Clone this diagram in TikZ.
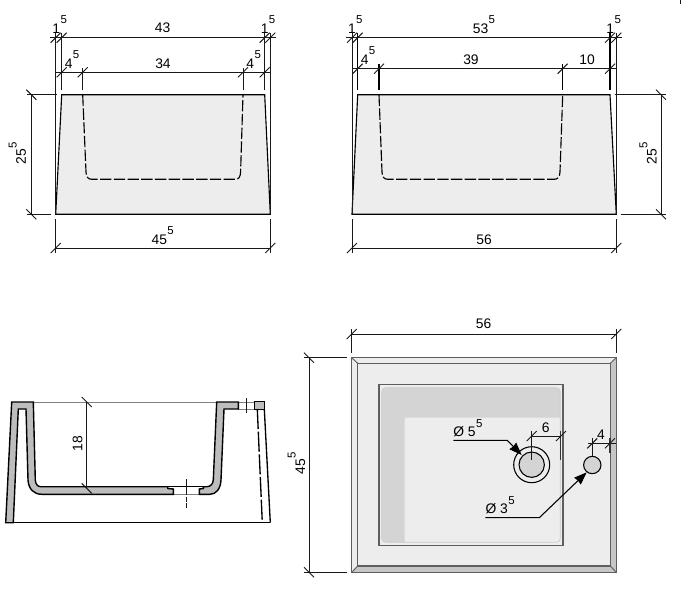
\documentclass[tikz,border=0pt]{standalone}
\usepackage{fontspec}
\setmainfont{Liberation Sans}
\usepackage{xcolor}
\usepackage{tikz}
\usetikzlibrary{arrows.meta}
\definecolor{facegray}{HTML}{EDEDED}
\definecolor{basingray}{HTML}{D4D4D4}
\definecolor{wallgray}{HTML}{BDBDBD}
\definecolor{bevelgray}{HTML}{C6C6C6}
\definecolor{edgegray}{HTML}{5E5E5E}
\tikzstyle{outline} = [line width=0.85pt,black]
\tikzstyle{dimline} = [line width=0.7pt,black!90]
\tikzstyle{hidden} = [line width=0.85pt,black,dash pattern=on 8.5pt off 1.8pt]
\tikzstyle{wall} = [line width=1.05pt,fill=wallgray]
\tikzstyle{num} = [inner sep=0pt,anchor=base,font=\fontsize{10.4}{12}\selectfont]
\tikzstyle{leader} = [line width=0.8pt,black,-{Stealth[length=9.5pt,width=7pt,inset=0.5pt]}]
\newcommand{\numsup}[2]{#1\kern0.3pt\raisebox{7pt}{\fontsize{8.6}{9}\selectfont #2}}

\begin{document}
\begin{tikzpicture}[x=0.75pt,y=-0.75pt]
	\useasboundingbox (0,0) rectangle (683,601);
	\draw [dimline] (680,0) -- (680,4);

	% Front view, left:
	\filldraw [outline,fill=facegray] (55.7,214.3) -- (61.7,94.7) -- (264.7,94.7) -- (270.3,214.3) -- cycle;
	\draw [hidden] (82.7,94.7) -- (86,172) .. controls (86.2,177) and (88,179.3) .. (92,179.3) -- (235,179.3) .. controls (239,179.3) and (240.3,177) .. (240.6,172) -- (243,94.7);

	% Extension lines:
	\draw [dimline] (55.7,33) -- (55.7,214.3);
	\draw [dimline] (270.3,33) -- (270.3,214.3);
	\foreach \x in {61.7,264.7}
	{
		\draw [dimline] (\x,33) -- (\x,90);
	}
	\foreach \x in {82.7,243}
	{
		\draw [dimline] (\x,68) -- (\x,90);
	}
	\draw [dimline] (55.7,219) -- (55.7,253);
	\draw [dimline] (270.3,219) -- (270.3,253);
	\draw [dimline] (27,94.7) -- (56.7,94.7);
	\draw [dimline] (27,214.3) -- (51,214.3);

	% Dimension lines:
	\draw [dimline] (50,37.7) -- (276,37.7);
	\draw [dimline] (55.7,72.3) -- (270.3,72.3);
	\draw [dimline] (55.7,248) -- (270.3,248);
	\draw [dimline] (31.3,94.7) -- (31.3,214.3);
	\foreach \x in {55.7,61.7,264.7,270.3}
	{
		\draw [dimline] (\x-5,42.7) -- (\x+5,32.7);
	}
	\foreach \x in {61.7,82.7,243,264.7}
	{
		\draw [dimline] (\x-5,77.3) -- (\x+5,67.3);
	}
	\foreach \x in {55.7,270.3}
	{
		\draw [dimline] (\x-5,253) -- (\x+5,243);
	}
	\foreach \y in {94.7,214.3}
	{
		\draw [dimline] (26.3,\y-5) -- (36.3,\y+5);
	}

	\node [num] (leftouterA) at (59.7,33) {\numsup{1}{5}};
	\node [num] (leftwidth) at (162.7,32.7) {43};
	\node [num] (leftouterB) at (268,33) {\numsup{1}{5}};
	\node [num] (leftrimA) at (72,68) {\numsup{4}{5}};
	\node [num] (leftbasin) at (163,68) {34};
	\node [num] (leftrimB) at (253.7,68) {\numsup{4}{5}};
	\node [num] (leftbase) at (162.7,244) {\numsup{45}{5}};
	\node [num,rotate=90] (leftheight) at (26,153.3) {\numsup{25}{5}};

	% Front view, right:
	\filldraw [outline,fill=facegray] (352,214.3) -- (357.7,94.7) -- (610,94.7) -- (616.3,214.3) -- cycle;
	\draw [hidden] (379,94.7) -- (382,172) .. controls (382.2,177) and (384,179.3) .. (388,179.3) -- (554,179.3) .. controls (558,179.3) and (559.7,177) .. (560,172) -- (562.7,94.7);

	\draw [dimline] (352,33) -- (352,214.3);
	\draw [dimline] (616.3,33) -- (616.3,214.3);
	\foreach \x in {357.7,610}
	{
		\draw [line width=0.85pt] (\x,33) -- (\x,90);
	}
	\foreach \x in {379,562.7}
	{
		\draw [line width=0.85pt] (\x,64) -- (\x,90);
	}
	\draw [dimline] (352,219) -- (352,253);
	\draw [dimline] (616.3,219) -- (616.3,253);
	\draw [dimline] (614.7,94.7) -- (666,94.7);
	\draw [dimline] (620.7,214.3) -- (666,214.3);

	\draw [dimline] (346,37.7) -- (622,37.7);
	\draw [dimline] (352,68.7) -- (616.3,68.7);
	\draw [dimline] (352,248) -- (616.3,248);
	\draw [dimline] (661,94.7) -- (661,214.3);
	\foreach \x in {352,357.7,610,616.3}
	{
		\draw [dimline] (\x-5,42.7) -- (\x+5,32.7);
	}
	\foreach \x in {357.7,379,562.7,610}
	{
		\draw [dimline] (\x-5,73.7) -- (\x+5,63.7);
	}
	\foreach \x in {352,616.3}
	{
		\draw [dimline] (\x-5,253) -- (\x+5,243);
	}
	\foreach \y in {94.7,214.3}
	{
		\draw [dimline] (656,\y-5) -- (666,\y+5);
	}

	\node [num] (rightouterA) at (355.3,33) {\numsup{1}{5}};
	\node [num] (rightwidth) at (484,33) {\numsup{53}{5}};
	\node [num] (rightouterB) at (613.7,33) {\numsup{1}{5}};
	\node [num] (rightrim) at (368,64) {\numsup{4}{5}};
	\node [num] (rightbasin) at (471,64) {39};
	\node [num] (rightdeck) at (587,64) {10};
	\node [num] (rightbase) at (484,244) {56};
	\node [num,rotate=90] (rightheight) at (656.7,153) {\numsup{25}{5}};

	% Section:
	\draw [line width=0.7pt,black!50] (33.3,402) -- (216.7,402);
	\draw [line width=0.7pt,black!50] (173.3,494.3) -- (199.3,494.3);
	\draw [line width=0.7pt,black!50] (238.3,402) -- (255,402);
	\draw [line width=0.7pt,black!50] (238.3,409) -- (255,409);
	\filldraw [wall] (5.7,522.7) -- (11.7,402) -- (33.3,402) -- (35.3,480) .. controls (35.5,484) and (37.5,486.7) .. (40.7,486.7) -- (167.7,486.7) -- (167.7,488.5) -- (173.3,489) -- (173.3,494.3) -- (41.7,494.3) .. controls (34,494.3) and (28.5,489) .. (28,480) -- (26,409) -- (18.3,409) -- (13.3,522.7) -- cycle;
	\filldraw [wall] (199.3,494.3) -- (199.3,489) -- (203.3,488.5) -- (203.3,486.7) -- (206.7,486.7) .. controls (210.5,486.7) and (213,484) .. (213.3,480) -- (216.7,402) -- (238.3,402) -- (238.3,409) -- (224,409) -- (221,480) .. controls (220.5,489) and (216,494.3) .. (210,494.3) -- cycle;
	\draw [line width=1.05pt] (167.7,486.7) -- (203.3,486.7);
	\filldraw [line width=0.7pt,fill=wallgray] (254.6,401.6) rectangle (264.6,409.8);
	\draw [line width=1pt] (264.3,409) -- (270.3,522.7);
	\draw [line width=1pt,dash pattern=on 15pt off 2pt] (257.3,409) -- (262.3,522.7);
	\draw [outline] (5.7,522.7) -- (270.3,522.7);

	% Center lines:
	\draw [dimline] (246.3,398.3) -- (246.3,412.7);
	\draw [dimline] (186,479.3) -- (186,495);
	\draw [dimline] (186,496.7) -- (186,501.7);
	\draw [dimline] (186,503) -- (186,507.7);

	% Depth:
	\draw [dimline] (86.7,402) -- (86.7,488.3);
	\foreach \y in {402,488.3}
	{
		\draw [dimline] (81.7,\y-5) -- (91.7,\y+5);
	}
	\node [num,rotate=90] (depth) at (82.3,443.8) {18};

	% Plan:
	\fill [facegray] (351.7,357.7) rectangle (616.3,572.3);
	\fill [bevelgray] (610.3,363.3) -- (616.3,357.7) -- (616.3,572.3) -- (351.7,572.3) -- (357.7,566) -- (610.3,566) -- cycle;
	\draw [line width=0.9pt,edgegray] (351.7,357.7) rectangle (616.3,572.3);
	\draw [line width=0.9pt,edgegray] (357.7,363.3) rectangle (610.3,566);
	\draw [dimline,edgegray] (351.7,357.7) -- (357.7,363.3);
	\draw [dimline,edgegray] (616.3,357.7) -- (610.3,363.3);
	\draw [dimline,edgegray] (351.7,572.3) -- (357.7,566);
	\draw [dimline,edgegray] (616.3,572.3) -- (610.3,566);

	\filldraw [line width=0.9pt,draw=edgegray,fill=facegray] (379,384.7) rectangle (563,545.3);
	\fill [basingray,rounded corners=3pt] (381.7,387.7) rectangle (560.3,542.3);
	\fill [facegray,rounded corners=1pt] (404.7,417.7) rectangle (560.3,542.3);
	\draw [line width=0.5pt,black!20,rounded corners=3pt] (381.7,387.7) rectangle (560.3,542.3);

	% Drains:
	\node [circle,draw,line width=0.8pt,fill=facegray,minimum size=27pt,inner sep=0pt] (drainrim) at (531.7,464.7) {};
	\node [circle,draw,line width=0.8pt,fill=basingray,minimum size=19pt,inner sep=0pt] (drain) at (531.7,464.7) {};
	\node [circle,draw,line width=0.8pt,fill=basingray,minimum size=13pt,inner sep=0pt] (taphole) at (592.3,465) {};

	% Plan dimensions:
	\draw [dimline] (351.7,329) -- (351.7,353);
	\draw [dimline] (616.3,329) -- (616.3,353);
	\draw [dimline] (351.7,334) -- (616.3,334);
	\foreach \x in {351.7,616.3}
	{
		\draw [dimline] (\x-5,339) -- (\x+5,329);
	}
	\node [num] (planwidth) at (483.7,328.3) {56};

	\draw [dimline] (304,357.7) -- (347.3,357.7);
	\draw [dimline] (304,572.3) -- (347.3,572.3);
	\draw [dimline] (309,357.7) -- (309,572.3);
	\foreach \y in {357.7,572.3}
	{
		\draw [dimline] (304,\y-5) -- (314,\y+5);
	}
	\node [num,rotate=90] (plandepth) at (305,463.5) {\numsup{45}{5}};

	\draw [dimline] (531.7,436) -- (561,436);
	\draw [dimline] (531.7,431) -- (531.7,460);
	\draw [line width=0.8pt,black!80] (560.5,431) -- (560.5,460);
	\foreach \x in {531.7,561}
	{
		\draw [dimline] (\x-5,441) -- (\x+5,431);
	}
	\node [num] (draindist) at (545.7,432.3) {6};

	\draw [dimline] (588,443.3) -- (616,443.3);
	\draw [dimline] (592.3,438) -- (592.3,456.3);
	\draw [line width=0.85pt,black!80] (610,438) -- (610,453);
	\foreach \x in {592.3,610}
	{
		\draw [dimline] (\x-5,448.3) -- (\x+5,438.3);
	}
	\node [num] (tapdist) at (601,439) {4};

	% Leaders:
	\coordinate (drainstart) at (453.3,440.3);
	\coordinate (drainbend) at (507.3,440.3);
	\coordinate (draintip) at (521.7,455);
	\coordinate (tapstart) at (485.3,517.7);
	\coordinate (tapbend) at (539.3,517.7);
	\coordinate (taptip) at (586.7,472.3);
	\draw [leader] (drainstart) -- (drainbend) -- (draintip);
	\draw [leader] (tapstart) -- (tapbend) -- (taptip);
	\node [num,anchor=base west] (drainlabel) at (453,436.7) {Ø \numsup{5}{5}};
	\node [num,anchor=base west] (taplabel) at (485.3,513.7) {Ø \numsup{3}{5}};
\end{tikzpicture}
\end{document}
